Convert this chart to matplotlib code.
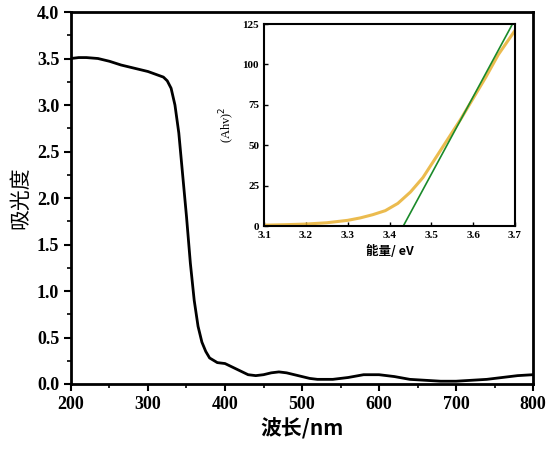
import numpy as np
import matplotlib
matplotlib.use("Agg")
import matplotlib.pyplot as plt

wl = [200,210,220,235,250,265,280,290,300,310,320,325,330,335,340,345,350,355,360,365,370,375,380,390,400,410,420,430,440,450,460,470,480,490,500,510,520,540,560,580,600,620,640,660,680,700,720,740,760,780,800]
ab = [3.50,3.51,3.51,3.50,3.47,3.43,3.40,3.38,3.36,3.33,3.30,3.26,3.18,3.00,2.70,2.25,1.80,1.30,0.90,0.62,0.45,0.35,0.28,0.23,0.22,0.18,0.14,0.10,0.09,0.10,0.12,0.13,0.12,0.10,0.08,0.06,0.05,0.05,0.07,0.10,0.10,0.08,0.05,0.04,0.03,0.03,0.04,0.05,0.07,0.09,0.10]

ev = [3.10,3.15,3.20,3.25,3.30,3.33,3.36,3.39,3.42,3.45,3.48,3.51,3.54,3.57,3.60,3.63,3.66,3.70]
ahv = [0.5,0.8,1.2,2.0,3.5,5.0,7.0,9.5,14,21,30,42,54,66,79,92,106,121]
fit_x = [3.433,3.694]
fit_y = [0,125]

serif = ['Liberation Serif', 'DejaVu Serif']
cjk = ['Noto Sans CJK SC', 'DejaVu Sans']

fig = plt.figure(figsize=(5.54,4.61), dpi=100)
ax = fig.add_axes([71/554, 1-384/461, (533-71)/554, (384-12)/461])
ax.plot(wl, ab, color='black', lw=2)
ax.set_xlim(200,800); ax.set_ylim(0,4)
ax.set_xticks(range(200,801,100))
ax.set_yticks(np.arange(0,4.01,0.5))
ax.set_xticks(range(250,800,100), minor=True)
ax.set_yticks(np.arange(0.25,4,0.5), minor=True)
for lab in ax.get_xticklabels()+ax.get_yticklabels():
    lab.set_family(serif); lab.set_fontweight('bold'); lab.set_fontsize(13)
ax.tick_params(width=1.5, length=5)
ax.tick_params(which='minor', width=1.2, length=3)
for s in ax.spines.values(): s.set_linewidth(2)
ax.set_ylabel('吸光度', family=cjk, fontsize=15)
ax.set_xlabel('波长/nm', family=cjk, fontsize=15, fontweight='bold')

ins = fig.add_axes([264/554, 1-226/461, (515-264)/554, (226-24)/461])
ins.plot(ev, ahv, color='#e8b030', lw=2.2, alpha=0.85)
ins.plot(fit_x, fit_y, color='#1a8a2a', lw=1.2)
ins.set_xlim(3.1,3.7); ins.set_ylim(0,125)
ins.set_xticks(np.arange(3.1,3.71,0.1))
ins.set_yticks(range(0,126,25))
for lab in ins.get_xticklabels()+ins.get_yticklabels():
    lab.set_family(serif); lab.set_fontsize(8); lab.set_fontweight('bold')
ins.tick_params(direction='in', width=1, length=3)
for s in ins.spines.values(): s.set_linewidth(1.5)
ins.set_ylabel('(Ahv)$^2$', family=serif, fontsize=9)
ins.set_xlabel('能量/ eV', family=cjk, fontsize=9, fontweight='bold')

fig.savefig('out.png', dpi=100)
